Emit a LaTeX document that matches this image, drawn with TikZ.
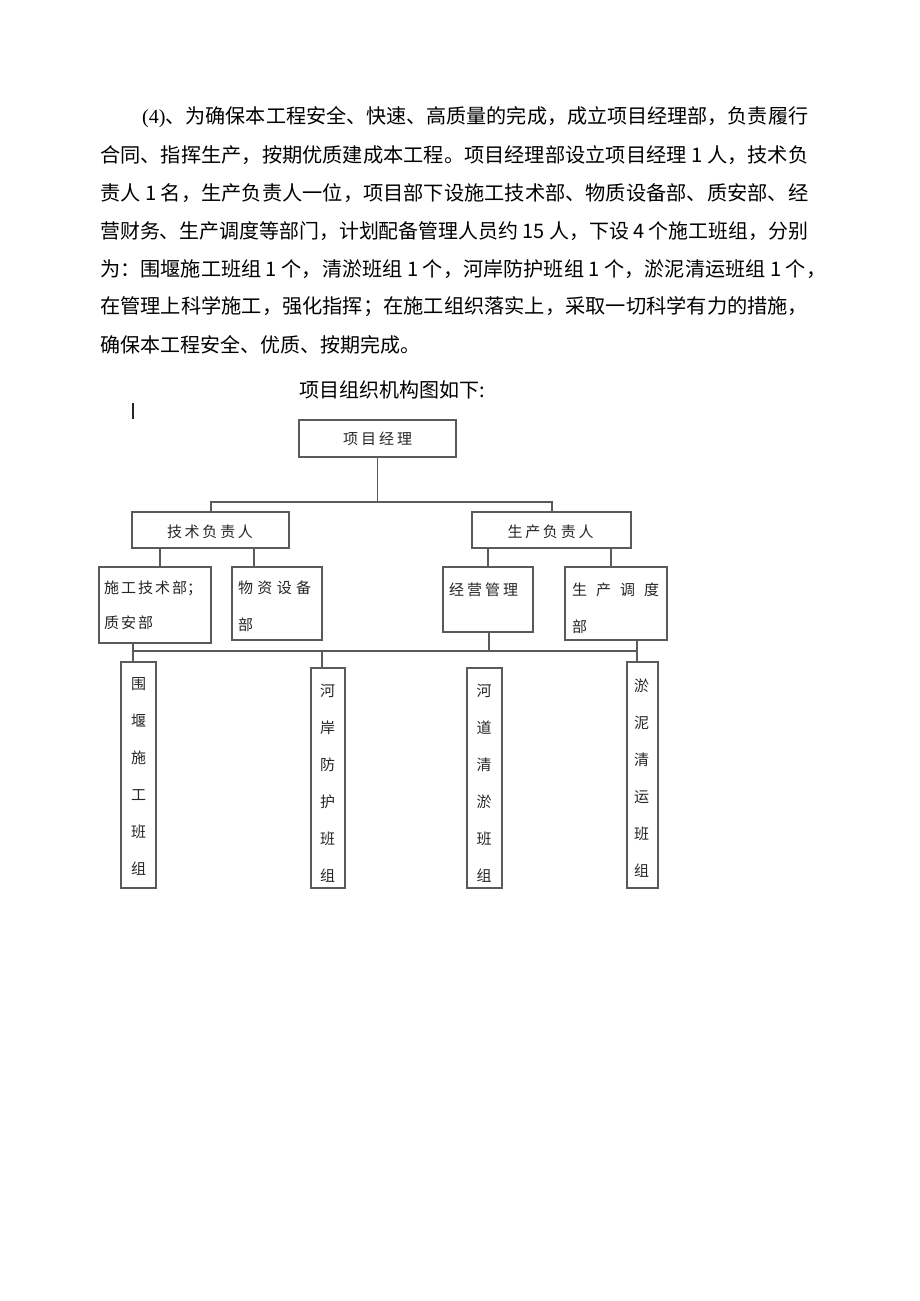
\documentclass[tikz,border=0pt]{standalone}
\usepackage{fontspec}
\usepackage{graphicx}
\setmainfont{Liberation Serif}
\newfontfamily\cjk{Noto Sans CJK SC}
\definecolor{linegray}{HTML}{5A5A5A}
\definecolor{textgray}{HTML}{262626}
\newcommand\cgap[1]{\kern#1pt}
\begin{document}
\begin{tikzpicture}[x=1pt,y=-1pt,
  box/.style={draw=linegray, line width=1.3pt, inner sep=0pt},
  conn/.style={draw=linegray, line width=1.3pt},
  ctext/.style={inner sep=0pt, text=textgray, font=\cjk\fontsize{15}{15}\selectfont},
  vtext/.style={inner sep=0pt, text=textgray, align=center, font=\cjk\fontsize{15}{37}\selectfont},
  body/.style={inner sep=0pt, anchor=west, font=\cjk\fontsize{20}{20}\selectfont}]
\useasboundingbox (0,0) rectangle (920,1301);
\fill[white] (0,0) rectangle (920,1301);

% paragraph
\node[body] (l1) at (142,117) {\resizebox{666pt}{\height}{{\rmfamily (4)}、为确保本工程安全、快速、高质量的完成，成立项目经理部，负责履行}};
\node[body] (l2) at (100,155) {\resizebox{708pt}{\height}{合同、指挥生产，按期优质建成本工程。项目经理部设立项目经理 1 人，技术负}};
\node[body] (l3) at (100,193) {\resizebox{708pt}{\height}{责人 1 名，生产负责人一位，项目部下设施工技术部、物质设备部、质安部、经}};
\node[body] (l4) at (100,231) {\resizebox{708pt}{\height}{营财务、生产调度等部门，计划配备管理人员约 15 人，下设 4 个施工班组，分别}};
\node[body] (l5) at (100,269) {\resizebox{726pt}{\height}{为：围堰施工班组 1 个，清淤班组 1 个，河岸防护班组 1 个，淤泥清运班组 1 个，}};
\node[body] (l6) at (100,307) {\resizebox{708pt}{\height}{在管理上科学施工，强化指挥；在施工组织落实上，采取一切科学有力的措施，}};
\node[body] (l7) at (100,345) {确保本工程安全、优质、按期完成。};
\node[body] (title) at (299,390) {项目组织机构图如下:};

% stray mark
\draw[line width=2.4pt, black!85] (133,403) -- (133,419);

% boxes
\node[box, minimum width=157pt, minimum height=37pt] (pm) at (377.5,438.5) {};
\node[ctext] (pmt) at (377.5,439) {项\cgap3 目\cgap3 经\cgap3 理};

\node[box, minimum width=157pt, minimum height=36pt] (jf) at (210.5,530) {};
\node[ctext] (jft) at (210,532) {技\cgap{2.75}术\cgap{2.75}负\cgap{2.75}责\cgap{2.75}人};
\node[box, minimum width=159pt, minimum height=36pt] (sf) at (551.5,530) {};
\node[ctext] (sft) at (550.5,532) {生\cgap{2.75}产\cgap{2.75}负\cgap{2.75}责\cgap{2.75}人};

\node[box, minimum width=112pt, minimum height=76pt] (sg) at (155,605) {};
\node[ctext, anchor=west] (sgt1) at (104,588) {施\cgap2 工\cgap2 技\cgap2 术\cgap2 部\cgap0 ；};
\node[ctext, anchor=west] (sgt2) at (104,623) {质\cgap2 安\cgap2 部};

\node[box, minimum width=90pt, minimum height=73pt] (wz) at (277,603.5) {};
\node[ctext, anchor=west] (wzt1) at (238,588) {物\cgap{4.3}资\cgap{4.3}设\cgap{4.3}备};
\node[ctext, anchor=west] (wzt2) at (238,625) {部};

\node[box, minimum width=90pt, minimum height=65pt] (jy) at (488,599.5) {};
\node[ctext, anchor=west] (jyt) at (449,590) {经\cgap3 营\cgap3 管\cgap3 理};

\node[box, minimum width=102pt, minimum height=73pt] (sd) at (616,603.5) {};
\node[ctext, anchor=west] (sdt1) at (572,590) {生\cgap9 产\cgap9 调\cgap9 度};
\node[ctext, anchor=west] (sdt2) at (572,627) {部};

\node[box, minimum width=35pt, minimum height=226pt] (b1) at (138.5,775) {};
\node[vtext] (b1t) at (138.5,776) {围\\堰\\施\\工\\班\\组};
\node[box, minimum width=34pt, minimum height=220pt] (b2) at (328,778) {};
\node[vtext] (b2t) at (327.5,783) {河\\岸\\防\\护\\班\\组};
\node[box, minimum width=35pt, minimum height=220pt] (b3) at (484.5,778) {};
\node[vtext] (b3t) at (484,783) {河\\道\\清\\淤\\班\\组};
\node[box, minimum width=31pt, minimum height=226pt] (b4) at (642.5,775) {};
\node[vtext] (b4t) at (641.5,778) {淤\\泥\\清\\运\\班\\组};

% connector coordinates
\coordinate (t0) at (377.5,502);
\coordinate (tl) at (211,502);
\coordinate (tr) at (552,502);
\coordinate (xa) at (160,0);
\coordinate (xb) at (254,0);
\coordinate (xc) at (488,0);
\coordinate (xd) at (611,0);
\coordinate (xe) at (133,0);
\coordinate (xf) at (489,0);
\coordinate (xg) at (637,0);
\coordinate (xh) at (322,0);
\coordinate (busL) at (133,651);
\coordinate (busR) at (637,651);

% connectors
\draw[conn] (pm.south) -- (t0);
\draw[conn] (jf.north -| tl) -- (tl) -- (tr) -- (sf.north -| tr);
\draw[conn] (jf.south -| xa) -- (sg.north -| xa);
\draw[conn] (jf.south -| xb) -- (wz.north -| xb);
\draw[conn] (sf.south -| xc) -- (jy.north -| xc);
\draw[conn] (sf.south -| xd) -- (sd.north -| xd);
\draw[conn] (busL) -- (busR);
\draw[conn] (sg.south -| xe) -- (b1.north -| xe);
\draw[conn] (jy.south -| xf) -- (busL -| xf);
\draw[conn] (sd.south -| xg) -- (b4.north -| xg);
\draw[conn] (busL -| xh) -- (b2.north -| xh);
\end{tikzpicture}
\end{document}
